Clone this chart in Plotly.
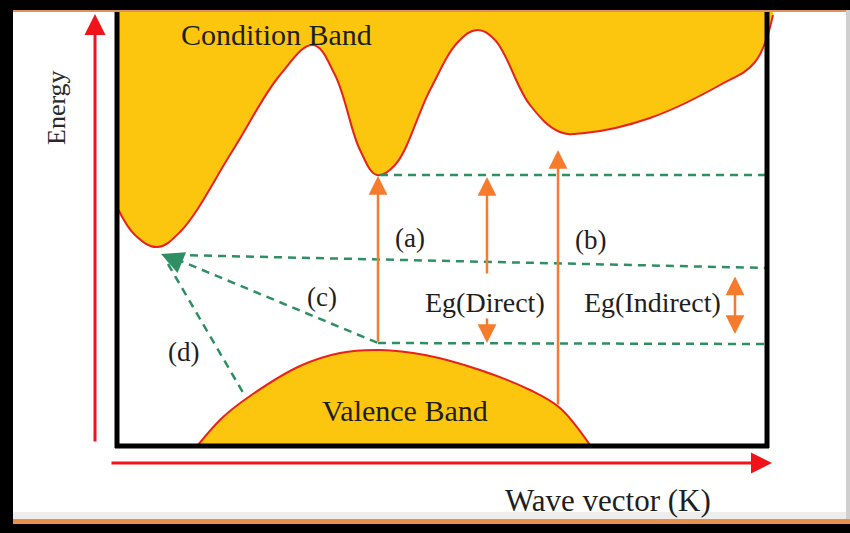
import plotly.graph_objects as go

# ---- data (diagram coordinates, y grows downward) ----
cb_x = [117, 135, 157, 180, 233, 280, 313, 335, 360, 377, 395, 430, 458, 477, 495, 530, 560, 585, 650, 720, 755, 773]
cb_y = [207, 235, 247, 232, 150, 75, 45, 75, 150, 175, 165, 90, 42, 30, 40, 105, 132, 133, 118, 85, 62, 15]
cb_top = 12

vb_x = [198, 222, 250, 300, 340, 380, 425, 480, 530, 560, 590]
vb_y = [445, 418, 396, 366, 353, 350, 355, 370, 390, 408, 445]
vb_base = 445

# dashed green lines: (x0, y0, x1, y1)
dash_lines = [
    (380, 175, 767, 175),
    (176, 255, 767, 268),
    (176, 259, 378, 343),
    (378, 343, 767, 344),
    (168, 264, 245, 396),
]

# orange arrows: (tail_x, tail_y, tip_x, tip_y, double)
orange_arrows = [
    (378, 343, 378, 176, False),
    (487, 275, 487, 177, False),
    (487, 317, 487, 343, False),
    (558, 406, 558, 150, False),
    (735, 275, 735, 334, True),
]

labels = [
    ("Condition Band", 276, 34, 30),
    ("Valence Band", 405, 410, 30),
    ("(a)", 410, 238, 27),
    ("(b)", 590, 240, 27),
    ("(c)", 322, 297, 27),
    ("(d)", 183, 352, 27),
    ("Eg(Direct)", 485, 302, 28),
    ("Eg(Indirect)", 652, 302, 28),
    ("Wave vector (K)", 608, 500, 31),
]

YELLOW = "#FCC60E"
RED = "#E8221B"
ORANGE = "#F77B2C"
GREEN = "#2E8E64"
TEXT = "#1E1E1E"
FONT = "Liberation Serif"

fig = go.Figure()

# conduction band fill
fig.add_trace(go.Scatter(x=[cb_x[0], cb_x[-1]], y=[cb_top, cb_top], mode="lines",
                         line=dict(width=0, color=YELLOW), hoverinfo="skip", showlegend=False))
fig.add_trace(go.Scatter(x=cb_x, y=cb_y, mode="lines", line=dict(color=RED, width=2, shape="spline", smoothing=1.1),
                         fill="tonexty", fillcolor=YELLOW, hoverinfo="skip", showlegend=False))

# valence band fill
fig.add_trace(go.Scatter(x=[vb_x[0], vb_x[-1]], y=[vb_base, vb_base], mode="lines",
                         line=dict(width=0, color=YELLOW), hoverinfo="skip", showlegend=False))
fig.add_trace(go.Scatter(x=vb_x, y=vb_y, mode="lines", line=dict(color=RED, width=2, shape="spline", smoothing=1.0),
                         fill="tonexty", fillcolor=YELLOW, hoverinfo="skip", showlegend=False))

# green dashed lines
for x0, y0, x1, y1 in dash_lines:
    fig.add_trace(go.Scatter(x=[x0, x1], y=[y0, y1], mode="lines",
                             line=dict(color=GREEN, width=2.5, dash="8px,6px"),
                             hoverinfo="skip", showlegend=False))

W, H = 850.0, 533.0
def px_rect(x0, x1, y0, y1, color):
    return dict(type="rect", xref="paper", yref="paper",
                x0=x0 / W, x1=x1 / W, y0=1 - y1 / H, y1=1 - y0 / H,
                fillcolor=color, line_width=0, layer="above")

shapes = []
# outer frame
shapes.append(px_rect(0, 850, 0, 10, "black"))
shapes.append(px_rect(13, 850, 10, 12, "#E0905A"))
shapes.append(px_rect(0, 13, 0, 533, "black"))
shapes.append(px_rect(846, 850, 10, 524, "#CFCFCF"))
shapes.append(px_rect(13, 846, 512, 519, "#EDEDED"))
shapes.append(px_rect(13, 850, 519, 524, "#E8914C"))
shapes.append(px_rect(0, 850, 524, 533, "black"))
# inner box
shapes.append(dict(type="line", x0=117, x1=117, y0=12, y1=448, line=dict(color="black", width=5), layer="above"))
shapes.append(dict(type="line", x0=767, x1=767, y0=12, y1=448, line=dict(color="black", width=5), layer="above"))
shapes.append(dict(type="line", x0=115, x1=769, y0=446, y1=446, line=dict(color="black", width=5), layer="above"))

annotations = []
# red axis arrows
annotations.append(dict(x=95, y=14, ax=95, ay=443, xref="x", yref="y", axref="x", ayref="y", text="",
                        showarrow=True, arrowhead=2, arrowsize=1.4, arrowwidth=3, arrowcolor="#F0141A"))
annotations.append(dict(x=772, y=463, ax=110, ay=463, xref="x", yref="y", axref="x", ayref="y", text="",
                        showarrow=True, arrowhead=2, arrowsize=1.4, arrowwidth=3, arrowcolor="#F0141A"))
# orange arrows
for tx, ty, hx, hy, dbl in orange_arrows:
    annotations.append(dict(x=hx, y=hy, ax=tx, ay=ty, xref="x", yref="y", axref="x", ayref="y", text="",
                            showarrow=True, arrowhead=2, startarrowhead=2, arrowsize=1.5, startarrowsize=1.5,
                            arrowside="end+start" if dbl else "end",
                            arrowwidth=2.5, arrowcolor=ORANGE))
# green arrowhead
annotations.append(dict(x=161, y=254, ax=178, ay=261, xref="x", yref="y", axref="x", ayref="y", text="",
                        showarrow=True, arrowhead=2, arrowsize=1.5, arrowwidth=3, arrowcolor=GREEN))
# texts
for txt, x, y, size in labels:
    annotations.append(dict(x=x, y=y, xref="x", yref="y", text=txt, showarrow=False,
                            font=dict(family=FONT, size=size, color=TEXT), xanchor="center", yanchor="middle"))
annotations.append(dict(x=56, y=108, xref="x", yref="y", text="Energy", showarrow=False, textangle=-90,
                        font=dict(family=FONT, size=26, color="#2A2A2A"), xanchor="center", yanchor="middle"))

fig.update_layout(
    width=850, height=533,
    margin=dict(l=0, r=0, t=0, b=0),
    paper_bgcolor="white", plot_bgcolor="white",
    xaxis=dict(range=[0, 850], visible=False, fixedrange=True),
    yaxis=dict(range=[533, 0], visible=False, fixedrange=True),
    shapes=shapes, annotations=annotations, showlegend=False,
)

fig.write_html("out.html", config={"displayModeBar": False},
               post_script="document.body.style.margin='0';document.body.style.overflow='hidden';")
